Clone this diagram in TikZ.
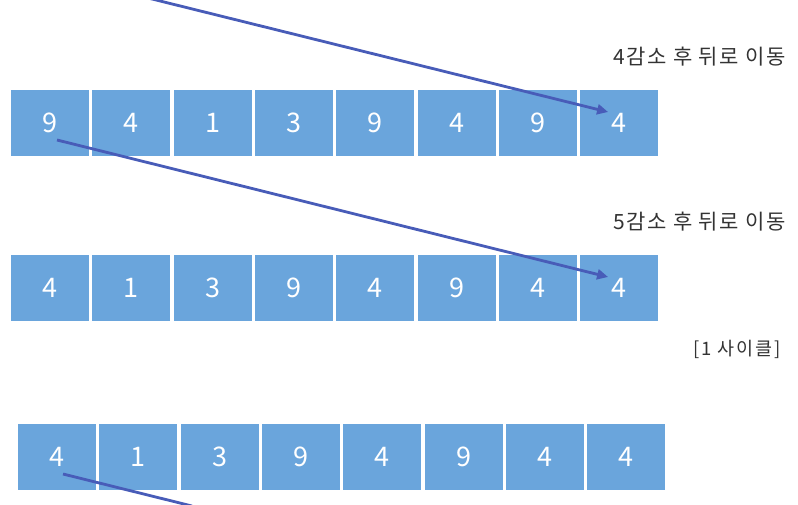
\documentclass[tikz,border=0pt]{standalone}
\usepackage{fontspec}
\setmainfont{Noto Sans CJK KR}
\newfontfamily\lblfont[LetterSpace=8]{Noto Sans CJK KR}
\newfontfamily\cycfont[LetterSpace=10]{Noto Sans CJK KR}
\usetikzlibrary{arrows.meta}
\definecolor{cell}{RGB}{106,165,220}
\definecolor{arr}{RGB}{72,92,184}
\definecolor{txt}{RGB}{51,51,51}
\begin{document}
\begin{tikzpicture}[x=1pt,y=-1pt,
  cellbox/.style={fill=cell,draw=none,minimum width=78pt,minimum height=66pt,inner sep=0pt,text=white,font=\fontsize{27}{27}\selectfont},
  conn/.style={draw=arr,line width=2.8pt,-{Triangle[length=11pt,width=10pt]}},
  connfree/.style={draw=arr,line width=2.8pt},
  lbl/.style={text=txt,font=\lblfont\fontsize{21}{21}\selectfont,anchor=east,inner sep=0pt}]
\useasboundingbox (0,0) rectangle (798,504);
% row 1
\foreach \v [count=\i] in {9,4,1,3,9,4,9,4}
  \node[cellbox] (a\i) at ({11+39+(\i-1)*81.3},123) {\v};
% row 2
\foreach \v [count=\i] in {4,1,3,9,4,9,4,4}
  \node[cellbox] (b\i) at ({11+39+(\i-1)*81.3},288) {\v};
% row 3
\foreach \v [count=\i] in {4,1,3,9,4,9,4,4}
  \node[cellbox] (c\i) at ({18+39+(\i-1)*81.3},457) {\v};
% labels
\node[lbl] (l1) at (786,57) {4감소 후 뒤로 이동};
\node[lbl] (l2) at (786,222) {5감소 후 뒤로 이동};
\node[lbl,font=\cycfont\fontsize{18.5}{18.5}\selectfont] (l3) at (781,349) {[1 사이클]};
% connectors
\coordinate (s0) at (148,-2);
\draw[conn] (s0) -- ([shift={(-11,-11)}]a8.center);
\draw[conn] ([shift={(7,17)}]a1.center) -- ([shift={(-11,-11)}]b8.center);
\coordinate (s3e) at (192,506);
\draw[connfree] ([shift={(6,17)}]c1.center) -- (s3e);
\end{tikzpicture}
\end{document}
